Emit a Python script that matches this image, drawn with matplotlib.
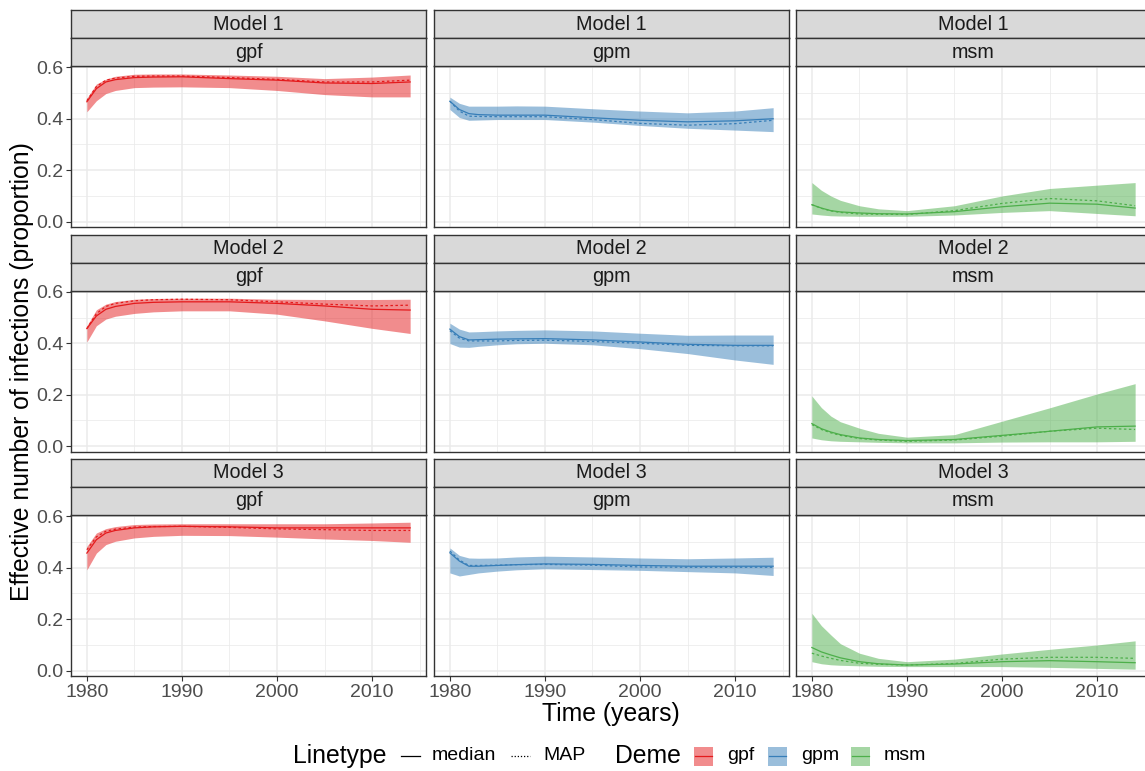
import matplotlib
matplotlib.use('Agg')
import matplotlib.pyplot as plt
from matplotlib.patches import Rectangle
from matplotlib.lines import Line2D

plt.rcParams['font.family'] = ['Liberation Sans', 'DejaVu Sans']

# ---------------- data ----------------
years = [1980, 1981, 1982, 1983, 1985, 1987, 1990, 1995, 2000, 2005, 2010, 2014]
models = ['Model 1', 'Model 2', 'Model 3']
demes = ['gpf', 'gpm', 'msm']
deme_colors = ['#E41A1C', '#377EB8', '#4DAF4A']
x_ticks = [1980, 1990, 2000, 2010]
x_minor = [1985, 1995, 2005, 2015]
y_ticks = [0.0, 0.2, 0.4, 0.6]
y_minor = [0.1, 0.3, 0.5]
y_ticklabels = ['0.0', '0.2', '0.4', '0.6']

# Model 1
m1_gpf_median = [0.466, 0.517, 0.543, 0.552, 0.560, 0.562, 0.563, 0.556, 0.550, 0.539, 0.537, 0.543]
m1_gpf_map    = [0.470, 0.525, 0.550, 0.558, 0.565, 0.566, 0.566, 0.560, 0.553, 0.543, 0.543, 0.550]
m1_gpf_upper  = [0.480, 0.535, 0.554, 0.565, 0.573, 0.574, 0.574, 0.570, 0.565, 0.556, 0.562, 0.570]
m1_gpf_lower  = [0.427, 0.470, 0.498, 0.510, 0.521, 0.523, 0.524, 0.521, 0.510, 0.494, 0.485, 0.485]

m1_gpm_median = [0.468, 0.436, 0.420, 0.416, 0.414, 0.414, 0.414, 0.404, 0.394, 0.388, 0.392, 0.400]
m1_gpm_map    = [0.468, 0.430, 0.410, 0.409, 0.408, 0.408, 0.408, 0.397, 0.382, 0.375, 0.381, 0.394]
m1_gpm_upper  = [0.484, 0.460, 0.449, 0.449, 0.449, 0.450, 0.449, 0.439, 0.430, 0.423, 0.430, 0.443]
m1_gpm_lower  = [0.436, 0.405, 0.394, 0.395, 0.397, 0.397, 0.397, 0.387, 0.374, 0.363, 0.356, 0.350]

m1_msm_median = [0.066, 0.053, 0.043, 0.038, 0.034, 0.031, 0.030, 0.039, 0.058, 0.072, 0.068, 0.053]
m1_msm_map    = [0.066, 0.052, 0.042, 0.036, 0.030, 0.029, 0.028, 0.043, 0.071, 0.090, 0.081, 0.062]
m1_msm_upper  = [0.152, 0.122, 0.100, 0.083, 0.062, 0.050, 0.043, 0.062, 0.100, 0.129, 0.142, 0.152]
m1_msm_lower  = [0.030, 0.026, 0.023, 0.022, 0.021, 0.021, 0.021, 0.026, 0.036, 0.043, 0.032, 0.023]

# Model 2
m2_gpf_median = [0.457, 0.506, 0.532, 0.543, 0.555, 0.559, 0.561, 0.561, 0.555, 0.545, 0.532, 0.529]
m2_gpf_map    = [0.457, 0.515, 0.543, 0.555, 0.565, 0.569, 0.571, 0.569, 0.561, 0.552, 0.545, 0.548]
m2_gpf_upper  = [0.468, 0.530, 0.552, 0.562, 0.571, 0.574, 0.575, 0.575, 0.571, 0.570, 0.570, 0.571]
m2_gpf_lower  = [0.405, 0.468, 0.494, 0.505, 0.516, 0.522, 0.526, 0.526, 0.513, 0.487, 0.458, 0.438]

m2_gpm_median = [0.455, 0.426, 0.413, 0.414, 0.416, 0.417, 0.418, 0.413, 0.405, 0.396, 0.392, 0.392]
m2_gpm_map    = [0.449, 0.420, 0.409, 0.409, 0.409, 0.411, 0.412, 0.407, 0.400, 0.392, 0.390, 0.390]
m2_gpm_upper  = [0.478, 0.455, 0.444, 0.445, 0.448, 0.450, 0.452, 0.448, 0.439, 0.431, 0.432, 0.432]
m2_gpm_lower  = [0.399, 0.385, 0.384, 0.388, 0.394, 0.398, 0.400, 0.394, 0.379, 0.360, 0.335, 0.318]

m2_msm_median = [0.088, 0.068, 0.055, 0.045, 0.032, 0.026, 0.022, 0.026, 0.042, 0.058, 0.075, 0.078]
m2_msm_map    = [0.084, 0.065, 0.052, 0.042, 0.030, 0.024, 0.019, 0.024, 0.039, 0.058, 0.070, 0.065]
m2_msm_upper  = [0.195, 0.150, 0.117, 0.095, 0.070, 0.050, 0.035, 0.045, 0.097, 0.149, 0.203, 0.243]
m2_msm_lower  = [0.032, 0.025, 0.021, 0.019, 0.017, 0.015, 0.013, 0.013, 0.016, 0.017, 0.017, 0.019]

# Model 3
m3_gpf_median = [0.457, 0.509, 0.535, 0.545, 0.555, 0.559, 0.561, 0.559, 0.555, 0.555, 0.555, 0.555]
m3_gpf_map    = [0.470, 0.520, 0.542, 0.550, 0.558, 0.560, 0.561, 0.557, 0.551, 0.548, 0.545, 0.545]
m3_gpf_upper  = [0.483, 0.535, 0.552, 0.560, 0.568, 0.570, 0.571, 0.571, 0.571, 0.571, 0.574, 0.577]
m3_gpf_lower  = [0.392, 0.457, 0.490, 0.503, 0.516, 0.522, 0.526, 0.525, 0.519, 0.512, 0.506, 0.499]

m3_gpm_median = [0.458, 0.426, 0.406, 0.406, 0.409, 0.412, 0.415, 0.413, 0.409, 0.406, 0.406, 0.406]
m3_gpm_map    = [0.465, 0.430, 0.409, 0.409, 0.410, 0.412, 0.413, 0.410, 0.403, 0.402, 0.402, 0.402]
m3_gpm_upper  = [0.477, 0.448, 0.438, 0.437, 0.438, 0.442, 0.445, 0.442, 0.438, 0.435, 0.438, 0.441]
m3_gpm_lower  = [0.380, 0.368, 0.374, 0.380, 0.387, 0.392, 0.396, 0.393, 0.390, 0.385, 0.380, 0.370]

m3_msm_median = [0.090, 0.073, 0.061, 0.050, 0.035, 0.027, 0.022, 0.026, 0.035, 0.039, 0.035, 0.031]
m3_msm_map    = [0.068, 0.057, 0.048, 0.040, 0.029, 0.025, 0.022, 0.028, 0.045, 0.052, 0.052, 0.048]
m3_msm_upper  = [0.223, 0.175, 0.139, 0.105, 0.068, 0.048, 0.035, 0.045, 0.065, 0.083, 0.100, 0.116]
m3_msm_lower  = [0.035, 0.027, 0.023, 0.021, 0.019, 0.017, 0.016, 0.016, 0.016, 0.013, 0.009, 0.006]

series = {
    ('Model 1', 'gpf'): (m1_gpf_median, m1_gpf_map, m1_gpf_lower, m1_gpf_upper),
    ('Model 1', 'gpm'): (m1_gpm_median, m1_gpm_map, m1_gpm_lower, m1_gpm_upper),
    ('Model 1', 'msm'): (m1_msm_median, m1_msm_map, m1_msm_lower, m1_msm_upper),
    ('Model 2', 'gpf'): (m2_gpf_median, m2_gpf_map, m2_gpf_lower, m2_gpf_upper),
    ('Model 2', 'gpm'): (m2_gpm_median, m2_gpm_map, m2_gpm_lower, m2_gpm_upper),
    ('Model 2', 'msm'): (m2_msm_median, m2_msm_map, m2_msm_lower, m2_msm_upper),
    ('Model 3', 'gpf'): (m3_gpf_median, m3_gpf_map, m3_gpf_lower, m3_gpf_upper),
    ('Model 3', 'gpm'): (m3_gpm_median, m3_gpm_map, m3_gpm_lower, m3_gpm_upper),
    ('Model 3', 'msm'): (m3_msm_median, m3_msm_map, m3_msm_lower, m3_msm_upper),
}

# ---------------- layout (pixels) ----------------
W, H = 1145, 771
fig = plt.figure(figsize=(W / 100, H / 100), dpi=100)

col_left = [70.7, 433.7, 795.7]
panel_w = 355.6
row_bottom = [227.0, 451.5, 676.0]
panel_h = 161.0
strip_h = 28.0

BORDER = '#333333'
GRID = '#EBEBEB'


def rect(left, top, w, h):
    return [left / W, 1 - (top + h) / H, w / W, h / H]


span = years[-1] - years[0]
xlim = (years[0] - 0.05 * span, years[-1] + 0.05 * span)
ylim = (-0.0206, 0.605)

for r, model in enumerate(models):
    for c, deme in enumerate(demes):
        top = row_bottom[r] - panel_h
        ax = fig.add_axes(rect(col_left[c], top, panel_w, panel_h))
        med, mp, lo, up = series[(model, deme)]
        colr = deme_colors[c]
        ax.fill_between(years, lo, up, color=colr, alpha=0.5, lw=0, zorder=2)
        ax.plot(years, med, color=colr, lw=0.9, zorder=3)
        ax.plot(years, mp, color=colr, lw=0.9, ls=(0, (2, 2)), zorder=3)
        ax.set_xlim(*xlim)
        ax.set_ylim(*ylim)
        ax.set_xticks(x_ticks)
        ax.set_xticks(x_minor, minor=True)
        ax.set_yticks(y_ticks)
        ax.set_yticklabels(y_ticklabels)
        ax.set_yticks(y_minor, minor=True)
        ax.grid(which='major', color=GRID, lw=1.1, zorder=0)
        ax.grid(which='minor', color=GRID, lw=0.55, zorder=0)
        ax.set_axisbelow(True)
        ax.tick_params(which='minor', length=0)
        ax.tick_params(which='major', length=3.5, width=0.8, color=BORDER,
                       labelsize=14, labelcolor='#4D4D4D', pad=2)
        if c != 0:
            ax.tick_params(axis='y', left=False, labelleft=False)
        if r != 2:
            ax.tick_params(axis='x', bottom=False, labelbottom=False)
        for s in ax.spines.values():
            s.set_color(BORDER)
            s.set_linewidth(1.0)
            s.set_zorder(5)

        for k, label in enumerate([model, deme]):
            sax = fig.add_axes(rect(col_left[c], top - strip_h * (2 - k), panel_w, strip_h))
            sax.set_facecolor('#D9D9D9')
            sax.set_xticks([])
            sax.set_yticks([])
            for s in sax.spines.values():
                s.set_color(BORDER)
                s.set_linewidth(1.0)
            sax.text(0.5, 0.5, label, ha='center', va='center', fontsize=14.2,
                     color='#1A1A1A', transform=sax.transAxes)

# axis titles
fig.text(22 / W, 1 - 372 / H, 'Effective number of infections (proportion)',
         rotation=90, ha='center', va='center', fontsize=17.8, color='black')
fig.text(611 / W, 1 - 714 / H, 'Time (years)', ha='center', va='center',
         fontsize=17.8, color='black')

# ---------------- legend (overlay in pixel coords) ----------------
ov = fig.add_axes([0, 0, 1, 1], zorder=10)
ov.set_xlim(0, W)
ov.set_ylim(H, 0)
ov.axis('off')
ov.patch.set_alpha(0)
ly = 756
ov.text(293, ly, 'Linetype', ha='left', va='center', fontsize=17.8, color='black')
ov.add_line(Line2D([401, 420], [ly, ly], color='black', lw=0.9))
ov.text(432, ly, 'median', ha='left', va='center', fontsize=14, color='black')
ov.add_line(Line2D([511, 530], [ly, ly], color='black', lw=0.9, ls=(0, (1, 1.5))))
ov.text(543, ly, 'MAP', ha='left', va='center', fontsize=14, color='black')
ov.text(615, ly, 'Deme', ha='left', va='center', fontsize=17.8, color='black')
key_x = [694, 768, 851]
for i, d in enumerate(demes):
    x0 = key_x[i]
    ov.add_patch(Rectangle((x0, ly - 9.5), 19, 19, facecolor=deme_colors[i], alpha=0.5, lw=0))
    ov.add_line(Line2D([x0 + 1, x0 + 18], [ly, ly], color=deme_colors[i], lw=0.9))
    ov.text(x0 + 33, ly, d, ha='left', va='center', fontsize=14, color='black')

fig.savefig('out.png', dpi=100)
